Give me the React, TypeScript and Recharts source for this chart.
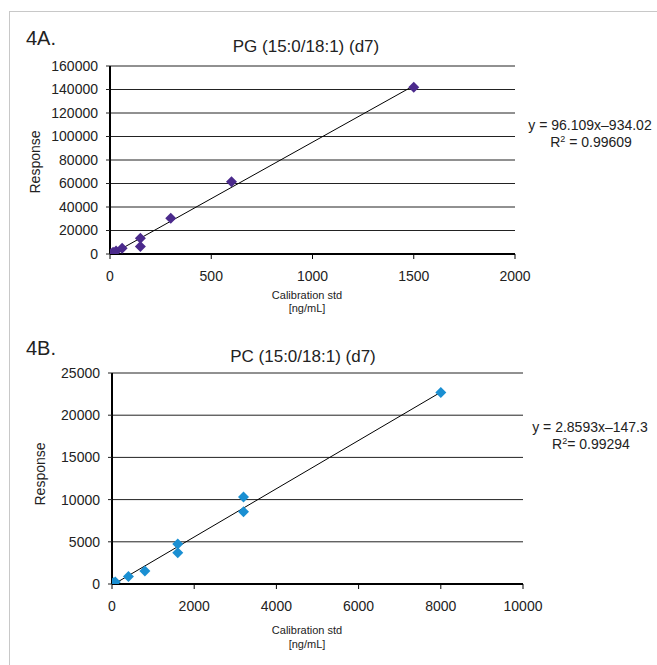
import { CartesianGrid, Scatter, ScatterChart, XAxis, YAxis } from "recharts";

// 4A – PG (15:0/18:1) (d7)
const pgConc = [0, 6, 15, 30, 60, 150, 150, 300, 600, 1500];
const pgResponse = [0, 300, 1400, 2600, 5000, 13300, 6300, 30500, 61500, 142000];
const pgSlope = 96.109;
const pgIntercept = -934.02;
const pgXTicks = [0, 500, 1000, 1500, 2000];
const pgYTicks = [0, 20000, 40000, 60000, 80000, 100000, 120000, 140000, 160000];

// 4B – PC (15:0/18:1) (d7)
const pcConc = [0, 40, 80, 400, 800, 1600, 1600, 3200, 3200, 8000];
const pcResponse = [100, 150, 250, 900, 1550, 4750, 3700, 10300, 8550, 22700];
const pcSlope = 2.8593;
const pcIntercept = -147.3;
const pcXTicks = [0, 2000, 4000, 6000, 8000, 10000];
const pcYTicks = [0, 5000, 10000, 15000, 20000, 25000];

const FONT = "'Liberation Sans', Arial, sans-serif";
const TEXT = "#222";

const toPoints = (xs: number[], ys: number[]) => xs.map((x, i) => ({ x, y: ys[i] }));

// regression line drawn between the smallest and largest standard
const fitLine = (xs: number[], slope: number, intercept: number) => {
	const lo = Math.min(...xs);
	const hi = Math.max(...xs);
	return [lo, hi].map((x) => ({ x, y: slope * x + intercept }));
};

const Diamond = (color: string) => (props: any) => {
	const { cx, cy } = props;
	const r = 5.5;
	return (
		<polygon
			points={`${cx},${cy - r} ${cx + r},${cy} ${cx},${cy + r} ${cx - r},${cy}`}
			fill={color}
		/>
	);
};

const NoDot = () => <g />;

type PanelProps = {
	top: number;
	height: number;
	margin: { top: number; right: number; bottom: number; left: number };
	xs: number[];
	ys: number[];
	slope: number;
	intercept: number;
	xTicks: number[];
	yTicks: number[];
	color: string;
};

function Panel({ top, height, margin, xs, ys, slope, intercept, xTicks, yTicks, color }: PanelProps) {
	const tick = { fill: TEXT, fontSize: 14, fontFamily: FONT };
	return (
		<div style={{ position: "absolute", left: 0, top }}>
			<ScatterChart width={657} height={height} margin={margin}>
				<CartesianGrid vertical={false} stroke="#222" strokeWidth={1} />
				<XAxis
					type="number"
					dataKey="x"
					domain={[xTicks[0], xTicks[xTicks.length - 1]]}
					ticks={xTicks}
					allowDataOverflow
					height={30}
					axisLine={{ stroke: "#000", strokeWidth: 2 }}
					tickLine={{ stroke: "#000" }}
					tickSize={5}
					tickMargin={12}
					tick={tick}
				/>
				<YAxis
					type="number"
					dataKey="y"
					domain={[yTicks[0], yTicks[yTicks.length - 1]]}
					ticks={yTicks}
					allowDataOverflow
					width={60}
					axisLine={{ stroke: "#000", strokeWidth: 2 }}
					tickLine={{ stroke: "#222" }}
					tickSize={4}
					tickMargin={8}
					tick={tick}
				/>
				<Scatter
					data={fitLine(xs, slope, intercept)}
					line={{ stroke: "#000", strokeWidth: 1 }}
					shape={NoDot}
					isAnimationActive={false}
				/>
				<Scatter data={toPoints(xs, ys)} shape={Diamond(color)} isAnimationActive={false} />
			</ScatterChart>
		</div>
	);
}

export default function App() {
	return (
		<div
			style={{
				position: "absolute",
				left: 0,
				top: 0,
				width: 657,
				height: 665,
				background: "#fff",
				overflow: "hidden",
			}}
		>
			<div
				style={{
					position: "absolute",
					left: 9,
					top: 11,
					width: 700,
					height: 700,
					borderLeft: "1.5px solid #c8c8c8",
					borderTop: "1.5px solid #c8c8c8",
				}}
			/>
			<Panel
				top={0}
				height={330}
				margin={{ top: 66, right: 142, bottom: 46, left: 50 }}
				xs={pgConc}
				ys={pgResponse}
				slope={pgSlope}
				intercept={pgIntercept}
				xTicks={pgXTicks}
				yTicks={pgYTicks}
				color="#4b2a8c"
			/>
			<Panel
				top={330}
				height={335}
				margin={{ top: 43, right: 134, bottom: 51, left: 52 }}
				xs={pcConc}
				ys={pcResponse}
				slope={pcSlope}
				intercept={pcIntercept}
				xTicks={pcXTicks}
				yTicks={pcYTicks}
				color="#1a8fd2"
			/>
			<svg
				width={657}
				height={665}
				style={{ position: "absolute", left: 0, top: 0, pointerEvents: "none" }}
				fontFamily={FONT}
				fill={TEXT}
			>
				{/* 4A */}
				<text x={26} y={45} fontSize={20}>4A.</text>
				<text x={306} y={52} fontSize={17} textAnchor="middle">PG (15:0/18:1) (d7)</text>
				<text x={0} y={0} fontSize={14} textAnchor="middle" transform="translate(40,162) rotate(-90)">
					Response
				</text>
				<text x={307} y={299} fontSize={11} textAnchor="middle">Calibration std</text>
				<text x={307} y={312} fontSize={11} textAnchor="middle">[ng/mL]</text>
				<text x={590} y={130} fontSize={14} textAnchor="middle">y = 96.109x–934.02</text>
				<text x={591} y={147} fontSize={14} textAnchor="middle">
					R<tspan fontSize={9} dy={-5}>2</tspan>
					<tspan dy={5}> = 0.99609</tspan>
				</text>
				{/* 4B */}
				<text x={26} y={355} fontSize={20}>4B.</text>
				<text x={303} y={362} fontSize={17} textAnchor="middle">PC (15:0/18:1) (d7)</text>
				<text x={0} y={0} fontSize={14} textAnchor="middle" transform="translate(45,474) rotate(-90)">
					Response
				</text>
				<text x={307} y={634} fontSize={11} textAnchor="middle">Calibration std</text>
				<text x={307} y={648} fontSize={11} textAnchor="middle">[ng/mL]</text>
				<text x={590} y={432} fontSize={14} textAnchor="middle">y = 2.8593x–147.3</text>
				<text x={591} y={449} fontSize={14} textAnchor="middle">
					R<tspan fontSize={9} dy={-5}>2</tspan>
					<tspan dy={5}>= 0.99294</tspan>
				</text>
			</svg>
		</div>
	);
}
